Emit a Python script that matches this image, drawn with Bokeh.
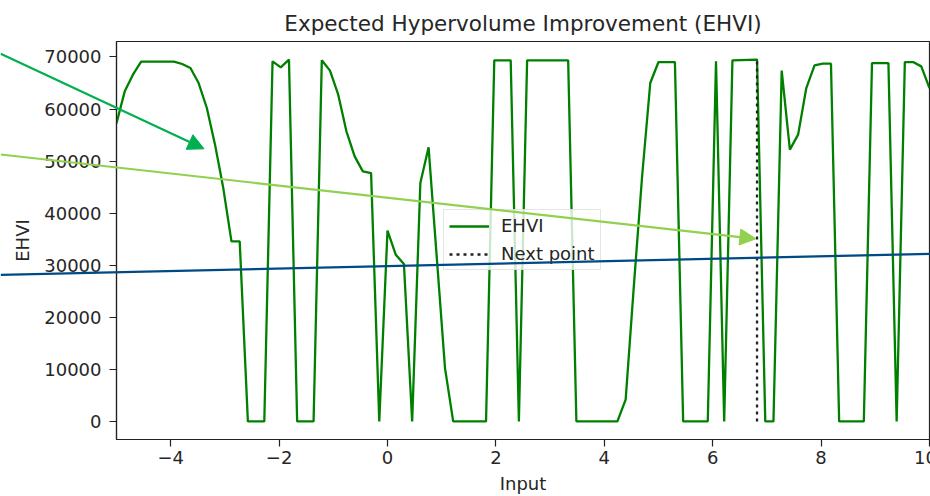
from bokeh.plotting import figure
from bokeh.models import Range1d, Arrow, NormalHead, Legend, FixedTicker
from bokeh.core.properties import value
from bokeh.embed import file_html
from bokeh.resources import INLINE

# EHVI curve vertices (input value, EHVI)
ehvi_x = [-5.000, -4.848, -4.697, -4.545, -3.939, -3.788, -3.636, -3.485, -3.333,
          -3.182, -3.030, -2.879, -2.727, -2.576, -2.273, -2.121, -1.970, -1.818,
          -1.667, -1.364, -1.212, -1.061, -0.909, -0.758, -0.606, -0.455, -0.303,
          -0.152, 0.000, 0.152, 0.303, 0.455, 0.606, 0.758, 0.909, 1.061, 1.212,
          1.818, 1.970, 2.273, 2.424, 2.576, 3.333, 3.485, 4.242, 4.394, 4.545,
          4.697, 4.848, 5.000, 5.303, 5.455, 5.909, 6.061, 6.212, 6.364, 6.818,
          6.970, 7.121, 7.273, 7.424, 7.576, 7.727, 7.879, 8.030, 8.182, 8.333,
          8.788, 8.939, 9.242, 9.394, 9.545, 9.697, 9.848, 10.000]
ehvi_y = [57300, 63400, 66600, 69100, 69100, 68650, 67880, 65000, 60200,
          53160, 44820, 34580, 34580, 0, 0, 69160, 68010, 69490,
          0, 0, 69360, 67380, 62770, 55720, 50910, 48030, 47710,
          0, 36640, 32030, 30230, 0, 45780, 52640, 31500, 10240, 0,
          0, 69360, 69360, 0, 69360, 69360, 0, 0, 4170, 26000,
          47000, 65000, 69030, 69030, 0, 0, 69160, 0, 69360, 69490,
          0, 0, 67380, 52200, 55080, 64030, 68400, 68720, 68720, 0,
          0, 68840, 68840, 0, 69030, 69030, 68200, 64030]

# Proposed next sample
next_x = 6.818
next_y = 69490

x_ticks = [-4, -2, 0, 2, 4, 6, 8, 10]
y_ticks = [0, 10000, 20000, 30000, 40000, 50000, 60000, 70000]

# Pointer arrows: (x_start, y_start, x_end, y_end, colour, head)
pointers = [
    (-7.137, 70610, -3.385, 52360, "#00b050", True),
    (-7.137, 51270, 6.796, 35080, "#92d050", True),
    (-7.137, 28160, 10.40, 32290, "#004a84", False),
]

FONT = "DejaVu Sans"
INK = "#262626"

# plot frame geometry (pixels) and data limits
W, H = 930, 496
LEFT, TOP, FW, FH = 116, 41, 813, 398
X0, X1 = -5, 10
Y0, Y1 = -3475, 72975

p = figure(
    frame_width=FW, frame_height=FH,
    min_border_left=LEFT, min_border_right=W - LEFT - FW,
    min_border_top=TOP, min_border_bottom=H - TOP - FH,
    x_range=Range1d(X0, X1), y_range=Range1d(Y0, Y1),
    output_backend="svg", toolbar_location=None,
    title="Expected Hypervolume Improvement (EHVI)",
    background_fill_color="white", border_fill_color="white",
)

p.title.align = "center"
p.title.text_font = FONT
p.title.text_font_size = "21.5px"
p.title.text_font_style = "normal"
p.title.text_color = INK
p.title.standoff = 12

p.xgrid.visible = False
p.ygrid.visible = False
p.outline_line_color = "#222222"
p.outline_line_width = 1.2

for ax in (p.xaxis[0], p.yaxis[0]):
    ax.axis_line_color = "#222222"
    ax.axis_line_width = 1.2
    ax.major_tick_line_color = "#222222"
    ax.major_tick_line_width = 1.2
    ax.major_tick_out = 7
    ax.major_tick_in = 0
    ax.minor_tick_line_color = None
    ax.major_label_text_font = FONT
    ax.major_label_text_font_size = "18px"
    ax.major_label_text_color = INK
    ax.axis_label_text_font = FONT
    ax.axis_label_text_font_size = "18px"
    ax.axis_label_text_font_style = "normal"
    ax.axis_label_text_color = INK

p.xaxis.ticker = FixedTicker(ticks=x_ticks)
p.yaxis.ticker = FixedTicker(ticks=y_ticks)
overrides = {t: str(t).replace("-", "\u2212") for t in x_ticks if t < 0}
overrides[x_ticks[-1]] = ""   # last label sits on the canvas edge; drawn on the overlay
p.xaxis.major_label_overrides = overrides
p.xaxis.axis_label = "Input"
p.yaxis.axis_label = "EHVI"
p.xaxis.major_label_standoff = 4
p.yaxis.major_label_standoff = 8
p.xaxis.axis_label_standoff = 6
p.yaxis.axis_label_standoff = 8

r_ehvi = p.line(ehvi_x, ehvi_y, line_color="green", line_width=2.3)
r_next = p.line([next_x, next_x], [0, next_y], line_color="#222222",
                line_dash="3 4", line_width=2.3)

legend = Legend(
    items=[("EHVI", [r_ehvi]), ("Next point", [r_next])],
    location=(327, 169),
    label_text_font=FONT, label_text_font_size="18px", label_text_color=INK,
    glyph_width=40, glyph_height=20, label_standoff=12,
    padding=5, spacing=7, margin=0,
    border_line_color="#cccccc", border_line_width=1,
    background_fill_color="white", background_fill_alpha=0.8,
)
p.add_layout(legend)

# Transparent overlay whose frame is the whole canvas, sharing the same data scale,
# so the pointer arrows can run into the margins.
ux = FW / (X1 - X0)
uy = FH / (Y1 - Y0)
ov = figure(
    width=W, height=H, min_border=0,
    x_range=Range1d(X0 - LEFT / ux, X1 + (W - LEFT - FW) / ux),
    y_range=Range1d(Y0 - (H - TOP - FH) / uy, Y1 + TOP / uy),
    x_axis_type=None, y_axis_type=None,
    output_backend="svg", toolbar_location=None,
    background_fill_color=None, border_fill_color=None, outline_line_color=None,
)
ov.xgrid.visible = False
ov.ygrid.visible = False
ov.styles = {"position": "absolute", "left": "0px", "top": "0px"}

# last x tick label, running off the canvas edge
ov.text(x=[x_ticks[-1] - 4 / ux], y=[Y0 - 11 / uy], text=[str(x_ticks[-1])],
        text_align="center", text_baseline="top",
        text_font=value(FONT), text_font_size="18px", text_color=INK)

for xs, ys, xe, ye, col, head in pointers:
    end = NormalHead(size=16, fill_color=col, line_color=col) if head else None
    ov.add_layout(Arrow(end=end, x_start=xs, y_start=ys, x_end=xe, y_end=ye,
                        line_color=col, line_width=2.2))

open("out.html", "w").write(file_html([p, ov], INLINE))
